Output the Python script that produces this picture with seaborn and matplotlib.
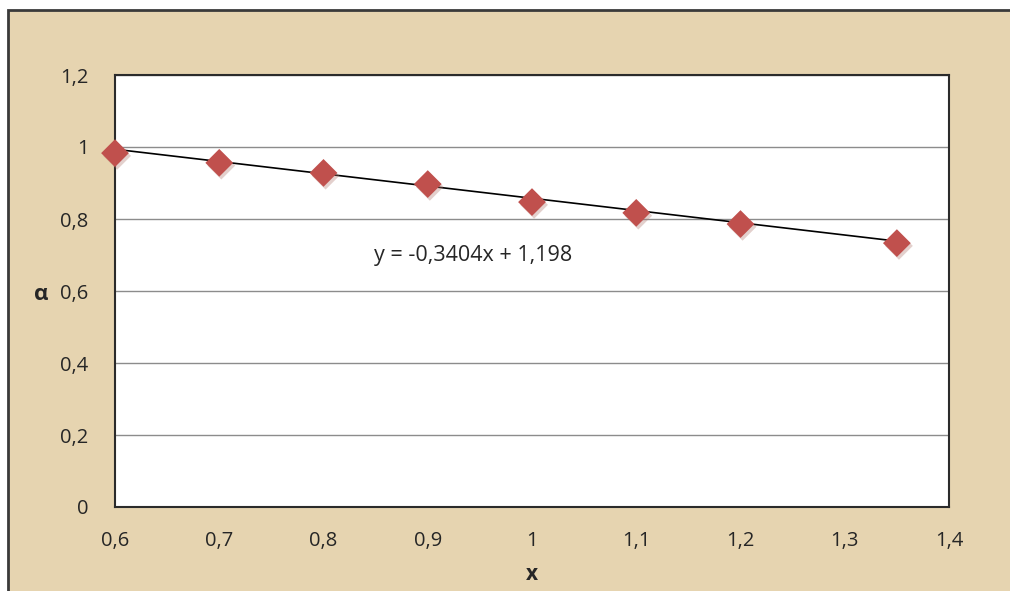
import matplotlib
matplotlib.use("Agg")
import matplotlib.pyplot as plt
import matplotlib.patheffects as pe
from matplotlib.patches import Rectangle
import pandas as pd
import seaborn as sns

# data
x_vals = [0.6, 0.7, 0.8, 0.9, 1.0, 1.1, 1.2, 1.35]
alpha_vals = [0.983, 0.956, 0.928, 0.897, 0.847, 0.817, 0.786, 0.733]
trend_slope = -0.3404
trend_intercept = 1.198
trend_label = "y = -0,3404x + 1,198"

x_ticks = [0.6, 0.7, 0.8, 0.9, 1.0, 1.1, 1.2, 1.3, 1.4]
x_ticklabels = ["0,6", "0,7", "0,8", "0,9", "1", "1,1", "1,2", "1,3", "1,4"]
y_ticks = [0, 0.2, 0.4, 0.6, 0.8, 1.0, 1.2]
y_ticklabels = ["0", "0,2", "0,4", "0,6", "0,8", "1", "1,2"]

df = pd.DataFrame({"x": x_vals, "alpha": alpha_vals})
trend_x = [min(x_vals), max(x_vals)]
trend_df = pd.DataFrame({"x": trend_x,
                         "y": [trend_slope * v + trend_intercept for v in trend_x]})

sns.set_style("white")
plt.rcParams["font.family"] = ["Open Sans", "DejaVu Sans"]

fig = plt.figure(figsize=(10.1, 5.91), dpi=100)
fig.patch.set_facecolor("white")

# parchment chart area with dark frame
W, H = 1010, 591
fig.patches.append(Rectangle((8 / W, -0.1), 1.2, 1.1 - 10 / H, transform=fig.transFigure,
                             facecolor="#E6D4B0", edgecolor="#3a3a3a", linewidth=2,
                             zorder=-10))

ax = fig.add_axes([115 / W, (H - 507) / H, (949 - 115) / W, (507 - 75) / H])
ax.set_facecolor("white")

ax.set_xlim(0.6, 1.4)
ax.set_ylim(0, 1.2)
ax.set_yticks(y_ticks)
ax.set_yticklabels(y_ticklabels)
ax.set_xticks(x_ticks)
ax.set_xticklabels(x_ticklabels)
ax.tick_params(axis="both", length=0, labelsize=14.5, colors="#262626")
ax.tick_params(axis="y", pad=19)
ax.tick_params(axis="x", pad=17)

ax.yaxis.grid(True, color="#8c8c8c", linewidth=1)
ax.xaxis.grid(False)
ax.set_axisbelow(True)
for s in ax.spines.values():
    s.set_visible(True)
    s.set_color("#2b2b2b")
    s.set_linewidth(1.5)

sns.lineplot(data=trend_df, x="x", y="y", color="black", linewidth=1.2, ax=ax,
             zorder=3)
sns.scatterplot(data=df, x="x", y="alpha", marker="D", s=200,
                color="#C0504D", edgecolor="none", ax=ax, zorder=4,
                clip_on=False)
ax.collections[-1].set_path_effects([
    pe.SimplePatchShadow(offset=(1.5, -2), shadow_rgbFace="#b07a70", alpha=0.35),
    pe.Normal()])

ax.text(0.944, 0.70, trend_label, ha="center", va="center", fontsize=15.5,
        color="#262626")

ax.set_xlabel("")
ax.set_ylabel("")
fig.text(532 / W, 1 - 574 / H, "x", fontsize=15, fontweight="bold",
         ha="center", va="center", color="#262626")
fig.text(41 / W, 1 - 295 / H, "α", fontsize=16, fontweight="bold",
         ha="center", va="center", color="#262626")

fig.savefig("out.png", dpi=100)
